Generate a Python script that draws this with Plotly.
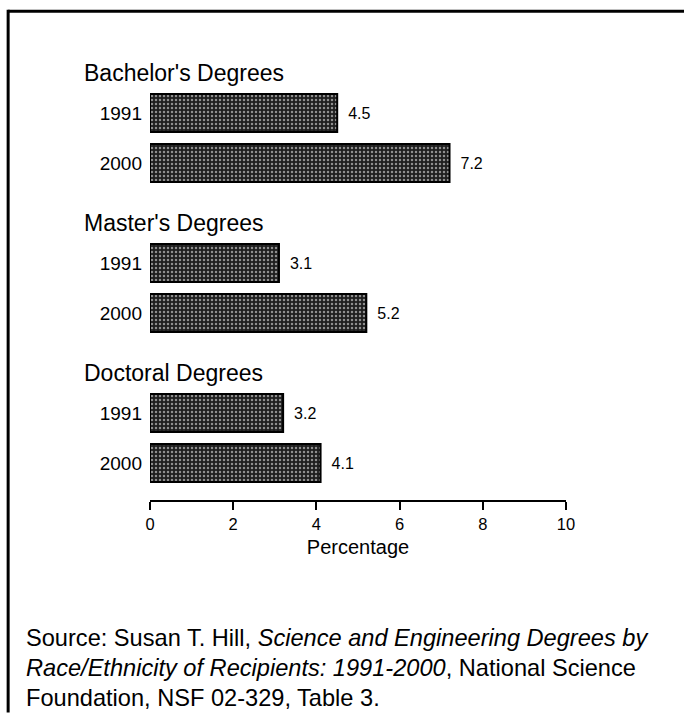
import plotly.graph_objects as go

groups = ["Bachelor's Degrees", "Master's Degrees", "Doctoral Degrees"]
years = ["1991", "2000"]
values = [[4.5, 7.2], [3.1, 5.2], [3.2, 4.1]]
x_ticks = [0, 2, 4, 6, 8, 10]
source_lines = [
    "Source: Susan T. Hill, <i>Science and Engineering Degrees by</i>",
    "<i>Race/Ethnicity of Recipients: 1991-2000</i>, National Science",
    "Foundation, NSF 02-329, Table 3.",
]

FONT = "Liberation Sans, Arial, Helvetica, sans-serif"

ys, xs, labels, texts = [], [], [], []
for g, grp in enumerate(groups):
    for j, yr in enumerate(years):
        pos = g * 3 + j + 1
        ys.append(pos)
        xs.append(values[g][j])
        labels.append(yr)
        texts.append("\u2002" + f"{values[g][j]:.1f}")

fig = go.Figure()
fig.add_trace(go.Bar(
    x=xs, y=ys, orientation="h", width=0.76,
    text=texts, textposition="outside", cliponaxis=False, constraintext="none",
    textfont=dict(size=16, color="black", family=FONT),
    marker=dict(
        color="#1e1e1e",
        line=dict(color="black", width=2),
        pattern=dict(shape=".", fgcolor="#ffffff", bgcolor="#1e1e1e", size=4, solidity=0.3),
    ),
    showlegend=False,
))

annotations = []
for g, grp in enumerate(groups):
    annotations.append(dict(
        x=-0.163, xref="paper", y=g * 3 + 0.2, yref="y",
        text=grp, showarrow=False, xanchor="left", yanchor="middle",
        font=dict(size=23, color="black", family=FONT),
    ))
for i, line in enumerate(source_lines):
    annotations.append(dict(
        x=-0.302, xref="paper", y=(500 - 638 - 30 * i) / 462, yref="paper",
        text=line, showarrow=False, xanchor="left", yanchor="middle",
        font=dict(size=23.6, color="black", family=FONT),
    ))

shapes = [
    dict(type="line", xref="paper", yref="paper", x0=-0.341, x1=1.3, y0=1.058, y1=1.058,
         line=dict(color="black", width=3)),
    dict(type="line", xref="paper", yref="paper", x0=-0.341, x1=-0.341, y0=1.061, y1=-0.46,
         line=dict(color="black", width=3)),
]

fig.update_layout(
    width=684, height=716,
    margin=dict(l=150, r=118, t=38, b=216),
    plot_bgcolor="white", paper_bgcolor="white",
    font=dict(family=FONT, color="black"),
    xaxis=dict(
        range=[0, 10], tickvals=x_ticks, ticks="outside", ticklen=8, tickwidth=1.5,
        tickcolor="black", showline=True, linecolor="black", linewidth=1.5,
        showgrid=False, zeroline=False,
        tickfont=dict(size=16.5, color="black", family=FONT),
        title=dict(text="Percentage", font=dict(size=20, color="black", family=FONT), standoff=8),
    ),
    yaxis=dict(
        range=[8.74, -0.5], tickvals=ys, ticktext=labels, ticks="",
        showline=False, showgrid=False, zeroline=False,
        tickfont=dict(size=19, color="black", family=FONT), ticklabelstandoff=7,
    ),
    annotations=annotations,
    shapes=shapes,
    bargap=0.2,
)

fig.write_html("out.html")
